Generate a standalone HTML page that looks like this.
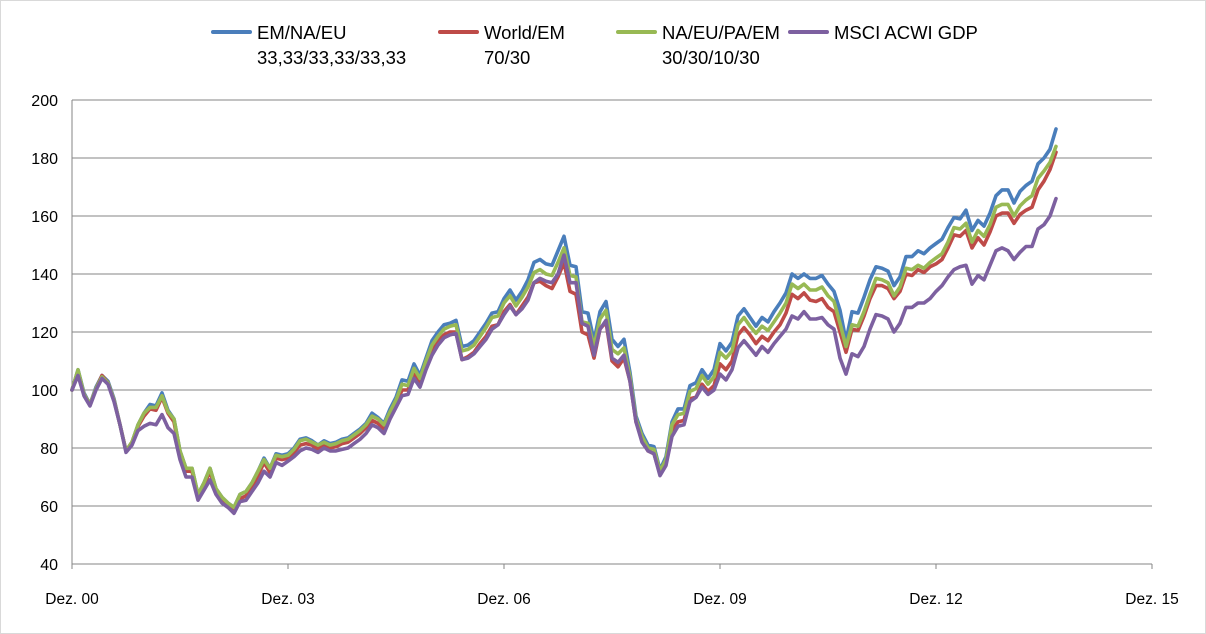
<!DOCTYPE html>
<html><head><meta charset="utf-8"><style>
html,body{margin:0;padding:0;background:#fff;}
svg{display:block;font-family:"Liberation Sans",sans-serif;}
</style></head><body>
<svg id="chart" width="1206" height="634">
<rect x="0.5" y="0.5" width="1205" height="633" fill="#fff" stroke="#d9d9d9"/>
<g id="grid"></g>
<g id="axes"></g>
<g id="series"></g>
<g id="legend"></g>
</svg>
<script>
const yTicks=[40,60,80,100,120,140,160,180,200];
const xTickLabels=["Dez. 00","Dez. 03","Dez. 06","Dez. 09","Dez. 12","Dez. 15"];
const xTickMonths=[0,36,72,108,144,180];
const seriesNames=["EM/NA/EU|33,33/33,33/33,33","World/EM|70/30","NA/EU/PA/EM|30/30/10/30","MSCI ACWI GDP|"];
const blue=[100,107,99,95,101,105,103,97,88,79,
82,88,92,95,94.5,99,93,90,79,73,
73,64,68,73,66,63,61,59.5,64,65,
68,72,76.5,73,78,77.5,78,80,83,83.5,
82.5,81,82.5,81.5,82,83,83.5,85,86.5,88.5,
92,90.5,88.5,93.5,97.5,103.5,103,109,105,111,
117,120,122.5,123,124,115,115.5,117,120,123,
126.5,127,131.5,134.5,131,134,138,144,145,143.5,
143,148,153,143,142.5,127,126.5,117,127,130.5,
117.5,115,117.5,106,91,85,81,80.5,72.5,77,
89,93.5,93.5,101.5,102.5,107,104,107,116,113.5,
116.5,125.5,128,125,122,125,123.5,127,130,133.5,
140,138.5,140,138.5,138.5,139.5,136.5,134,127.5,117,
127,126.5,132,138,142.5,142,141,136,139,146,
146,148,147,149,150.5,152,156,159.5,159,162,
155,158.5,156.5,161,167,169,169,164.5,168.5,170.5,
172,178,180,183,190];
const red=[100,106.5,98.5,95,100.5,105,102.5,96.5,88,79,
82,87.5,91,93.5,93,97.5,92,89,78,72,
72,63,67,72,65,62,60,58.5,62.5,63.5,
66.5,70.5,75,71.5,76.5,76,76.5,78.5,81,81.5,
81,79.5,81,80,80.5,81.5,82,83.5,85,87,
89.5,88.5,86.5,91,95,100,100,106,102,108.5,
114,117,119,120,120,110.5,111.5,113,116,118.5,
122,122.5,127,129.5,126,129,132,137,137.5,136,
135,139,144,134,133,120,119,111,121,123.5,
110,108,111,103,89,83,79,78,71,75.5,
86,89,89.5,97,97.5,102,99.5,101.5,109,107,
110,119,121.5,119,116,118.5,117,120,122.5,126.5,
133,131.5,133.5,131,130.5,131.5,128.5,127,120,113,
121,120.5,125.5,131.5,136,136,135,131.5,134,140,
139.5,141.5,140.5,142.5,143.5,145,149,153.5,153,155,
149,152.5,150,154.5,160,161,161,157.5,160.5,162,
163,169,172,176,182];
const green=[100,107,98.5,95,100.5,104.5,102.5,96.5,88,79,
82,88,92,94,94,98,92.5,90,79,73,
73,64,68,73,66,63,61,59.5,64,65,
68,72,76,73,77.5,77,77.5,79.5,82.5,83,
82,81,82,81,81.5,82.5,83,84.5,86,88,
91,90,88,92.5,96.5,102,101.5,107.5,104,110,
115.5,118.5,121,122,122.5,113.5,114,115.5,118.5,121.5,
125,125.5,130,132.5,129,132,135.5,140.5,141.5,140,
139.5,144,149,139.5,139,123.5,123,115,124.5,127.5,
114,112.5,114.5,104.5,90,84,80,79.5,72,76,
88,91.5,92,99.5,100.5,105,102,104.5,113,111,
113.5,122.5,125,122,119.5,122,120.5,123.5,126.5,130,
136.5,135,136.5,134.5,134.5,135.5,132.5,130.5,123,115,
122.5,122,127,133,138.5,138,137,132.5,135.5,142,
141.5,143,142,144,145.5,147,151,156,155.5,157.5,
151,155,153,157,163,164,164,160,163.5,165.5,
167,173,175.5,178.5,184];
const purple=[100,105,98,94.5,100,104,102,96,88,78.5,
81,86,87.5,88.5,88,91.5,87,85,76,70,
70,62,65.5,69,64,61,59.5,57.5,61.5,62,
65,68,72,70,75,74,75.5,77,79,80,
79.5,78.5,80,79,79,79.5,80,81.5,83,85,
88,87,85,90,94,98,98.5,104,101,107,
112,115.5,118,119,119.5,110.5,111,112.5,115,117.5,
121,122.5,126,129,126,128,131,137,138.5,137.5,
137,140,146.5,137,137,123,122,112,121,124,
111,109.5,112,103,89,82,79,78,70.5,74,
84,87.5,88,96,97.5,101,98.5,100,105.5,103.5,
107,114.5,117,114.5,112,115,113,116,118.5,121,
125.5,124.5,127,124.5,124.5,125,122.5,121,111,105.5,
112.5,111.5,115,121,126,125.5,124.5,120,123,128.5,
128.5,130,130,131.5,134,136,139,141.5,142.5,143,
136.5,139.5,138,143,148,149,148,145,147.5,149.5,
149.5,155.5,157,160,166];

const NS="http://www.w3.org/2000/svg";
const X0=72,X1=1152,Y0=564,Y1=100,MMAX=180,VMIN=40,VMAX=200;
function xs(m){return X0+(m/MMAX)*(X1-X0);}
function ys(v){return Y0-(v-VMIN)/(VMAX-VMIN)*(Y0-Y1);}
function mk(tag,attrs,parent){const e=document.createElementNS(NS,tag);for(const k in attrs)e.setAttribute(k,attrs[k]);parent.appendChild(e);return e;}
const grid=document.getElementById('grid'),axes=document.getElementById('axes'),ser=document.getElementById('series'),leg=document.getElementById('legend');
yTicks.forEach(t=>{
  if(t>VMIN){const l=mk('line',{x1:X0,x2:X1,y1:ys(t),y2:ys(t),stroke:'#868686','stroke-width':1},grid);
  
  }
  const tx=mk('text',{x:58,y:ys(t)+6,'text-anchor':'end','font-size':16,fill:'#000'},axes);
  tx.textContent=t;
  
  
});
const ya=mk('line',{x1:X0,x2:X0,y1:Y1,y2:Y0,stroke:'#868686','stroke-width':1},axes);


const xa=mk('line',{x1:X0,x2:X1,y1:Y0,y2:Y0,stroke:'#868686','stroke-width':1},axes);


xTickMonths.forEach((m,i)=>{
  const tk=mk('line',{x1:xs(m),x2:xs(m),y1:Y0,y2:Y0+5,stroke:'#868686'},axes);
  
  
  const tx=mk('text',{x:xs(m),y:604,'text-anchor':'middle','font-size':15.5,fill:'#000'},axes);
  tx.textContent=xTickLabels[i];
  
  
});
const colors=['#4a7ebb','#be4b48','#98b954','#7d60a0'];
const data=[blue,red,green,purple];
const sNames=['series-em-na-eu','series-world-em','series-na-eu-pa-em','series-msci-acwi-gdp'];
data.forEach((arr,i)=>{
  const d=arr.map((v,m)=>(m?'L':'M')+xs(m).toFixed(1)+','+ys(v).toFixed(1)).join(' ');
  const p=mk('path',{d:d,fill:'none',stroke:colors[i],'stroke-width':3.6,'stroke-linejoin':'round','stroke-linecap':'round'},ser);
  
  
});
const legX=[213,440,618,790];
seriesNames.forEach((n,i)=>{
  const parts=n.split('|');
  const g=mk('g',{},leg);
  
  
  mk('line',{x1:legX[i],x2:legX[i]+37,y1:32,y2:32,stroke:colors[i],'stroke-width':4,'stroke-linecap':'round'},g);
  const t1=mk('text',{x:legX[i]+44,y:39,'font-size':18.5,fill:'#000'},g);
  t1.textContent=parts[0];
  if(parts[1]){const t2=mk('text',{x:legX[i]+44,y:64,'font-size':18.5,fill:'#000'},g);t2.textContent=parts[1];}
});
</script>
</body></html>
